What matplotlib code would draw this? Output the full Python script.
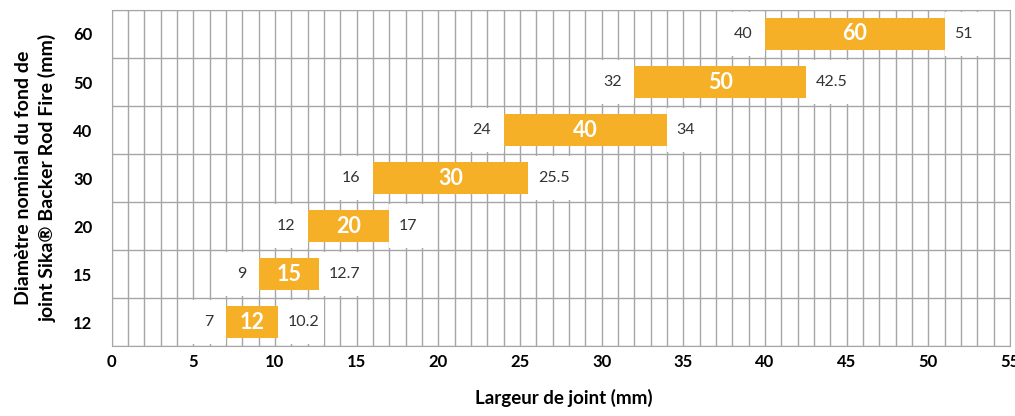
import matplotlib.pyplot as plt
import numpy as np

plt.rcParams['font.family'] = ['Lato', 'DejaVu Sans']

# diamètres nominaux et largeurs de joint (mm)
diametres = ["12", "15", "20", "30", "40", "50", "60"]
debut = [7, 9, 12, 16, 24, 32, 40]
fin = [10.2, 12.7, 17, 25.5, 34, 42.5, 51]
debut_txt = ["7", "9", "12", "16", "24", "32", "40"]
fin_txt = ["10.2", "12.7", "17", "25.5", "34", "42.5", "51"]

orange = "#F5B027"
gris = "#a6a6a6"

fig = plt.figure(figsize=(10.15, 4.16), dpi=100)
ax = fig.add_axes([0.110, 0.168, 0.885, 0.808])

y = np.arange(len(diametres))
deb = np.array(debut)
fn = np.array(fin)

# grille
for xv in range(0, 56):
    ax.axvline(xv, color=gris, lw=1.0, zorder=0)
for yv in np.arange(-0.5, len(diametres), 1):
    ax.axhline(yv, color=gris, lw=1.0, zorder=0)

# fonds blancs des étiquettes
ax.barh(y, 2.3, left=deb - 2.3, height=0.92, color="white", zorder=1)
ax.barh(y, 2.8, left=fn, height=0.92, color="white", zorder=1)

# barres
ax.barh(y, fn - deb, left=deb, height=0.66, color=orange, zorder=2)

for i in range(len(diametres)):
    ax.annotate(debut_txt[i], (debut[i], y[i]), xytext=(-9, 0), textcoords="offset points",
                ha="right", va="center", fontsize=11.5, color="#333333", zorder=3)
    ax.annotate(fin_txt[i], (fin[i], y[i]), xytext=(7, 0), textcoords="offset points",
                ha="left", va="center", fontsize=11.5, color="#333333", zorder=3)
    ax.text((debut[i] + fin[i]) / 2, y[i], diametres[i], ha="center", va="center",
            fontsize=15.5, fontweight="bold", color="white", zorder=3)

ax.set_xlim(0, 55)
ax.set_ylim(-0.5, len(diametres) - 0.5)
ax.set_xticks(range(0, 56, 5))
ax.set_xticklabels([str(v) for v in range(0, 56, 5)], fontweight="bold", fontsize=12)
ax.set_yticks(y)
ax.set_yticklabels(diametres, fontweight="bold", fontsize=12)
ax.tick_params(axis="y", length=0, pad=14)
ax.tick_params(axis="x", length=0, pad=6)
for s in ax.spines.values():
    s.set_color(gris)

fig.text(0.555, 0.022, "Largeur de joint (mm)", ha="center", va="bottom",
         fontweight="bold", fontsize=13.5)
ax.set_ylabel("Diamètre nominal du fond de\njoint Sika® Backer Rod Fire (mm)",
              fontweight="bold", fontsize=14, labelpad=12, linespacing=1.4)

plt.savefig("out.png", dpi=100)
